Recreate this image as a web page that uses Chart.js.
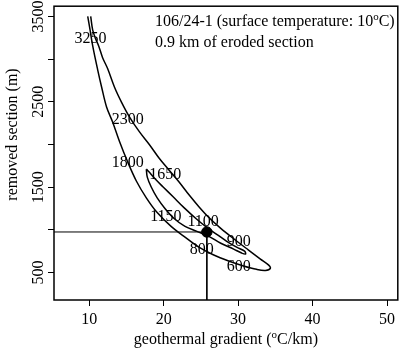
<!DOCTYPE html>
<html>
<head>
<meta charset="utf-8">
<script src="https://cdn.jsdelivr.net/npm/chart.js@4/dist/chart.umd.min.js"></script>
<style>
  body { margin: 0; background: #fff; }
  #wrap { width: 404px; height: 353px; position: relative; }
</style>
</head>
<body>
<div id="wrap"><canvas id="chart"></canvas></div>
<script>
// Contour data (geothermal gradient in C/km, removed section in m)
const outerX = [9.8, 10.07, 10.47, 11.13, 11.67, 12.33, 13.13, 14.07, 15.13, 16.33, 17.67, 19.13, 21.0, 22.73, 24.73, 26.73, 28.73, 30.73, 32.47, 33.67, 34.33,
                34.07, 33.0, 31.4, 29.67, 27.67, 26.07, 24.73, 23.4, 22.07, 20.73, 19.4, 18.07, 16.73, 15.4, 14.33, 13.4, 12.47, 11.8, 11.27, 10.87, 10.47, 10.2];
const outerY = [3500, 3365, 3155, 2878, 2671, 2439, 2266, 2035, 1803, 1572, 1375, 1202, 1040, 924, 797, 705, 635, 577, 537, 525, 549,
                589, 658, 763, 878, 1017, 1144, 1271, 1410, 1560, 1699, 1838, 2000, 2150, 2324, 2497, 2671, 2890, 3017, 3155, 3236, 3340, 3500];

const innerX = [17.67, 17.8, 18.33, 19.13, 20.2, 21.4, 22.87, 24.47, 26.07, 27.67, 29.4, 30.47, 31.0,
                30.87, 29.8, 28.47, 27.13, 25.8, 24.33, 22.73, 21.27, 19.93, 18.87, 18.2, 17.67];
const innerY = [1711, 1618, 1502, 1375, 1248, 1133, 1040, 982, 924, 843, 774, 728, 716,
                751, 797, 866, 948, 1028, 1133, 1260, 1387, 1502, 1595, 1664, 1711];

// best estimate
const markerX = 25.8;
const markerY = 975;

// contour labels
const labelText = ['3250', '2300', '1800', '1650', '1150', '1100', '800', '900', '600'];
const labelX = [10.17, 15.17, 15.17, 20.2, 20.3, 25.3, 25.1, 30.1, 30.1];
const labelY = [3240, 2290, 1790, 1640, 1155, 1090, 770, 865, 570];

// axes
const xTicks = [10, 20, 30, 40, 50];
const yTicks = [500, 1000, 1500, 2000, 2500, 3000, 3500];
const yLabelled = [500, 1500, 2500, 3500];
const xMin = 5.27, xMax = 51.45;
const yMin = 178, yMax = 3620;

const FONT = '"Liberation Serif", "Times New Roman", serif';

function toPoints(xs, ys) {
    return xs.map((x, i) => ({ x: x, y: ys[i] }));
}

// draw text with a small raised "o" (degree-like)
function drawSupText(ctx, parts, x, y, align) {
    const big = '16px ' + FONT;
    const small = '11px ' + FONT;
    let total = 0;
    parts.forEach(p => {
        ctx.font = p.sup ? small : big;
        total += ctx.measureText(p.t).width;
    });
    let cx = align === 'center' ? x - total / 2 : x;
    ctx.textAlign = 'left';
    parts.forEach(p => {
        ctx.font = p.sup ? small : big;
        ctx.fillText(p.t, cx, p.sup ? y - 6 : y);
        cx += ctx.measureText(p.t).width;
    });
}

const textPlugin = {
    id: 'texts',
    afterDatasetsDraw(chart) {
        const { ctx, chartArea, scales } = chart;
        const xs = scales.x, ys = scales.y;
        ctx.save();
        ctx.fillStyle = '#000';

        // plot box
        ctx.strokeStyle = '#000';
        ctx.lineWidth = 1.5;
        ctx.strokeRect(chartArea.left, chartArea.top, chartArea.right - chartArea.left, chartArea.bottom - chartArea.top);

        // contour labels
        ctx.font = '16px ' + FONT;
        ctx.textAlign = 'center';
        ctx.textBaseline = 'middle';
        labelText.forEach((t, i) => {
            ctx.fillText(t, xs.getPixelForValue(labelX[i]), ys.getPixelForValue(labelY[i]));
        });

        // annotation
        ctx.textBaseline = 'alphabetic';
        drawSupText(ctx, [{ t: '106/24-1 (surface temperature: 10' }, { t: 'o', sup: true }, { t: 'C)' }], 155, 26, 'left');
        drawSupText(ctx, [{ t: '0.9 km of eroded section' }], 155, 47, 'left');

        // x axis title
        const midX = (chartArea.left + chartArea.right) / 2;
        drawSupText(ctx, [{ t: 'geothermal gradient (' }, { t: 'o', sup: true }, { t: 'C/km)' }], midX, 344, 'center');

        // y axis title
        ctx.translate(17, 134.5);
        ctx.rotate(-Math.PI / 2);
        ctx.font = '16px ' + FONT;
        ctx.textAlign = 'center';
        ctx.fillText('removed section (m)', 0, 0);
        ctx.restore();
    }
};

const ctx = document.getElementById('chart').getContext('2d');
const chart = new Chart(ctx, {
    type: 'scatter',
    data: {
        datasets: [
            {
                data: toPoints(outerX, outerY),
                showLine: true,
                borderColor: '#000',
                borderWidth: 1.5,
                pointRadius: 0,
                tension: 0.35,
                fill: false
            },
            {
                data: toPoints(innerX, innerY),
                showLine: true,
                borderColor: '#000',
                borderWidth: 1.5,
                pointRadius: 0,
                tension: 0.35,
                fill: false
            },
            {
                // guide lines to the estimate
                data: [{ x: xMin, y: markerY }, { x: markerX, y: markerY }, { x: markerX, y: yMin }],
                showLine: true,
                borderColor: '#000',
                borderWidth: 1,
                pointRadius: 0,
                tension: 0
            },
            {
                data: [{ x: markerX, y: markerY }],
                pointRadius: 5.2,
                pointBackgroundColor: '#000',
                pointBorderColor: '#000',
                showLine: false
            }
        ]
    },
    options: {
        responsive: true,
        maintainAspectRatio: false,
        animation: false,
        layout: { padding: { left: 0, top: 3, right: 3.5, bottom: 0 } },
        plugins: {
            legend: { display: false },
            tooltip: { enabled: false }
        },
        scales: {
            x: {
                type: 'linear',
                min: xMin,
                max: xMax,
                afterBuildTicks: (scale) => { scale.ticks = xTicks.map(v => ({ value: v })); },
                afterFit: (scale) => {
                    scale.height = 53;
                    scale.paddingLeft = 0; scale.paddingRight = 0;
                },
                border: { display: false },
                grid: { drawOnChartArea: false, drawTicks: true, tickLength: 6, color: '#000', lineWidth: 1 },
                ticks: {
                    color: '#000',
                    font: { family: FONT, size: 16 },
                    padding: 4,
                    maxRotation: 0
                }
            },
            y: {
                type: 'linear',
                min: yMin,
                max: yMax,
                afterBuildTicks: (scale) => { scale.ticks = yTicks.map(v => ({ value: v })); },
                afterFit: (scale) => {
                    scale.width = 54;
                    scale.paddingTop = 0; scale.paddingBottom = 0;
                },
                border: { display: false },
                grid: { drawOnChartArea: false, drawTicks: true, tickLength: 6, color: '#000', lineWidth: 1 },
                ticks: {
                    color: '#000',
                    font: { family: FONT, size: 16 },
                    minRotation: 90,
                    maxRotation: 90,
                    crossAlign: 'center',
                    padding: -7,
                    callback: (v) => yLabelled.includes(v) ? String(v) : ''
                }
            }
        }
    },
    plugins: [textPlugin]
});
</script>
</body>
</html>
